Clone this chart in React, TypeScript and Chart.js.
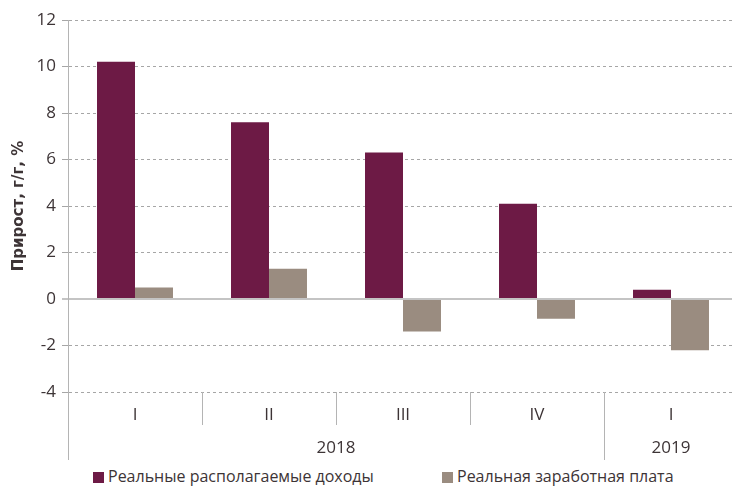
import React, { useEffect, useRef } from "react";
import { Chart, registerables } from "chart.js";

Chart.register(...registerables);

const quarters = ["I", "II", "III", "IV", "I"];
const incomeLabel = "Реальные располагаемые доходы";
const wageLabel = "Реальная заработная плата";
const incomeValues = [10.2, 7.6, 6.3, 4.1, 0.4];
const wageValues = [0.5, 1.3, -1.4, -0.85, -2.2];
const yearLabels = ["2018", "2019"];
const yearCenters = [2, 4.5];
const yearBounds = [0, 4];
const yTitle = "Прирост, г/г, %";

const PURPLE = "#6d1a45";
const GREY = "#9a8c80";
const TEXT = "#3d3436";
const FONT = "'Open Sans', sans-serif";

export default function App() {
  const ref = useRef<HTMLCanvasElement | null>(null);

  useEffect(() => {
    if (!ref.current) return;
    const chart = new Chart(ref.current, {
      type: "bar",
      data: {
        labels: quarters,
        datasets: [
          { label: incomeLabel, data: incomeValues, backgroundColor: PURPLE, categoryPercentage: 0.567, barPercentage: 1 },
          { label: wageLabel, data: wageValues, backgroundColor: GREY, categoryPercentage: 0.567, barPercentage: 1 },
        ],
      },
      options: {
        responsive: false,
        animation: false,
        layout: { padding: { top: 20, right: 2, bottom: 2, left: 0 } },
        plugins: { legend: { display: false }, tooltip: { enabled: false } },
        scales: {
          y: {
            min: -4,
            max: 12,
            ticks: { stepSize: 2, color: TEXT, font: { family: FONT, size: 17 }, padding: 6 },
            grid: {
              color: (ctx: any) => (ctx.tick && ctx.tick.value === 0 ? "#c4c4c4" : "#a6a6a6"),
              lineWidth: (ctx: any) => (ctx.tick && ctx.tick.value === 0 ? 2 : 1),
              tickLength: 6,
            },
            border: {
              display: true,
              color: "#b4b4b4",
              dash: (ctx: any) => (ctx.tick && ctx.tick.value !== 0 ? [3, 3] : []),
            },
            title: {
              display: true,
              text: yTitle,
              color: TEXT,
              font: { family: "'DejaVu Sans', sans-serif", size: 15, weight: "bold" },
              padding: { top: 10, bottom: 0 },
            },
            afterFit: (s: any) => {
              s.width = 68;
            },
          },
          x: {
            type: "category",
            weight: 0,
            grid: { offset: true, drawOnChartArea: false, tickLength: 33, color: "#b4b4b4" },
            border: { display: false },
            ticks: { color: TEXT, font: { family: FONT, size: 17 }, padding: -20, maxRotation: 0, autoSkip: false },
            afterFit: (s: any) => {
              s.height = 33;
            },
          },
          x2: {
            type: "linear",
            position: "bottom",
            weight: 1,
            min: 0,
            max: 5,
            offset: false,
            afterBuildTicks: (s: any) => {
              const vals = [...yearBounds, ...yearCenters].sort((a, b) => a - b);
              s.ticks = vals.map((v) => ({ value: v }));
            },
            ticks: {
              color: TEXT,
              font: { family: FONT, size: 17 },
              padding: -22,
              maxRotation: 0,
              autoSkip: false,
              callback: (v: any) => {
                const i = yearCenters.indexOf(Number(v));
                return i >= 0 ? yearLabels[i] : "";
              },
            },
            grid: {
              offset: false,
              drawOnChartArea: false,
              tickLength: 35,
              color: (ctx: any) =>
                ctx.tick && yearBounds.indexOf(ctx.tick.value) >= 0 ? "#b4b4b4" : "rgba(0,0,0,0)",
            },
            border: { display: false },
            afterFit: (s: any) => {
              s.height = 35;
            },
          },
        },
      },
    });
    return () => chart.destroy();
  }, []);

  const legendText: React.CSSProperties = {
    position: "absolute",
    top: 0,
    fontFamily: FONT,
    fontSize: 16,
    lineHeight: "20px",
    color: TEXT,
    whiteSpace: "nowrap",
  };
  const box = (c: string, left: number): React.CSSProperties => ({
    position: "absolute",
    left,
    top: 6,
    width: 11,
    height: 11,
    background: c,
  });

  return (
    <div style={{ position: "fixed", left: 0, top: 0, width: 740, height: 489, background: "#fff" }}>
      <canvas ref={ref} width={740} height={462} style={{ display: "block" }} />
      <div style={{ position: "absolute", left: 0, top: 466, width: 740, height: 22 }}>
        <div style={box(PURPLE, 93)} />
        <div style={{ ...legendText, left: 108 }}>{incomeLabel}</div>
        <div style={box(GREY, 442)} />
        <div style={{ ...legendText, left: 457 }}>{wageLabel}</div>
      </div>
    </div>
  );
}
